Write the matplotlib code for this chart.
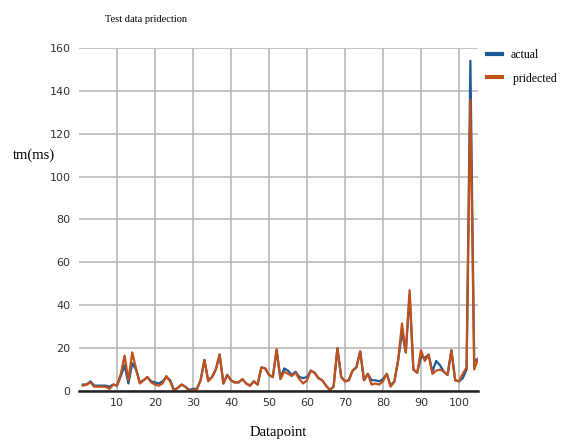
import numpy as np
import matplotlib
matplotlib.use("Agg")
import matplotlib.pyplot as plt

# test set: measured vs predicted time per datapoint
datapoint = np.arange(1, 106)

actual = [
    3, 3, 4.5, 2.5, 2.5, 2.5, 2.5, 2, 3, 2.5,
    7, 12, 3.5, 13, 10, 4, 5, 6.5, 4.5, 4,
    3.5, 4.5, 6.5, 5, 0.5, 1.5, 3, 2, 0.5, 1,
    1, 5, 14.5, 5, 6.5, 10, 17, 3.5, 7.5, 5,
    4, 4, 5.5, 3.5, 2.5, 4.5, 3, 11, 10.5, 7.5,
    6.5, 19, 6, 10.5, 9.5, 7.5, 9, 6.5, 6, 6.5,
    9.5, 8.5, 6, 5, 2.5, 0.5, 2, 20, 6.5, 4.5,
    5, 9.5, 11, 18.5, 5, 8, 5, 5, 4.5, 5.5,
    8, 2.5, 4.5, 14.5, 27.5, 18, 45, 10, 8.5, 16,
    15.5, 17, 9, 14, 12, 9, 7.5, 19, 5, 4.5,
    6, 10, 154, 14, 15,
]

predicted = [
    2.5, 3, 4, 2, 2, 2, 2, 1, 3, 2.5,
    8, 16.5, 5, 18, 10.5, 3.5, 5, 6.5, 4, 3,
    2.5, 3.5, 7, 4.5, 0, 1.5, 3, 2, 0, 0.5,
    0.5, 5, 14.5, 4.5, 6.5, 10, 17, 3.5, 7.5, 5,
    4, 4, 5.5, 3.5, 2.5, 4.5, 3, 11, 10.5, 7.5,
    6.5, 19.5, 5.5, 9, 8, 7, 8.5, 5.5, 3.5, 5,
    9.5, 8.5, 6, 5, 2.5, 0.5, 2, 20, 6.5, 4.5,
    5, 9.5, 11, 18.5, 5, 8, 3, 3.5, 3, 4.5,
    8, 2, 4.5, 14.5, 31.5, 18, 47, 10, 8.5, 19,
    14, 17, 8, 9.5, 10, 9, 7.5, 19, 5, 4.5,
    8, 11, 136, 10, 15,
]

x_ticks = [10, 20, 30, 40, 50, 60, 70, 80, 90, 100]
y_ticks = [0, 20, 40, 60, 80, 100, 120, 140, 160]

BLUE = '#1c5a96'
ORANGE = '#c2501b'
GRID = '#b4b4b4'
TICK = '#333333'
serif = ['Liberation Serif', 'DejaVu Serif']

fig = plt.figure(figsize=(5.66, 4.43), dpi=100)
ax = fig.add_axes([0.1396, 0.1174, 0.7049, 0.7743])

ax.plot(datapoint, actual, color=BLUE, lw=1.6, label='actual', zorder=3)
ax.plot(datapoint, predicted, color=ORANGE, lw=1.6, label=' pridected', zorder=4)

ax.set_xlim(0, 105)
ax.set_ylim(0, 160)
ax.set_xticks(x_ticks)
ax.set_yticks(y_ticks)
ax.grid(True, color=GRID, lw=1.1)
ax.set_axisbelow(True)
for side in ['top', 'right', 'left']:
    ax.spines[side].set_visible(False)
ax.spines['bottom'].set_color('#222222')
ax.spines['bottom'].set_linewidth(1.8)
ax.spines['bottom'].set_zorder(5)
ax.tick_params(axis='both', length=0, labelsize=8, colors=TICK, pad=5)
ax.tick_params(axis='y', pad=6)

ax.set_xlabel('Datapoint', fontsize=10.5, family=serif, labelpad=13)
fig.text(0.023, 0.65, 'tm(ms)', fontsize=10.5, family=serif, va='center')
fig.text(0.185, 0.955, 'Test data pridection', fontsize=7.5, family=serif, va='center')

leg = ax.legend(loc='upper left', bbox_to_anchor=(0.86, 0.89), bbox_transform=fig.transFigure,
                frameon=False, prop={'family': serif, 'size': 8.5}, handlelength=1.3,
                handletextpad=0.7, labelspacing=1.0, borderaxespad=0, borderpad=0)
for line in leg.get_lines():
    line.set_linewidth(3)

fig.savefig('out.png', dpi=100)
